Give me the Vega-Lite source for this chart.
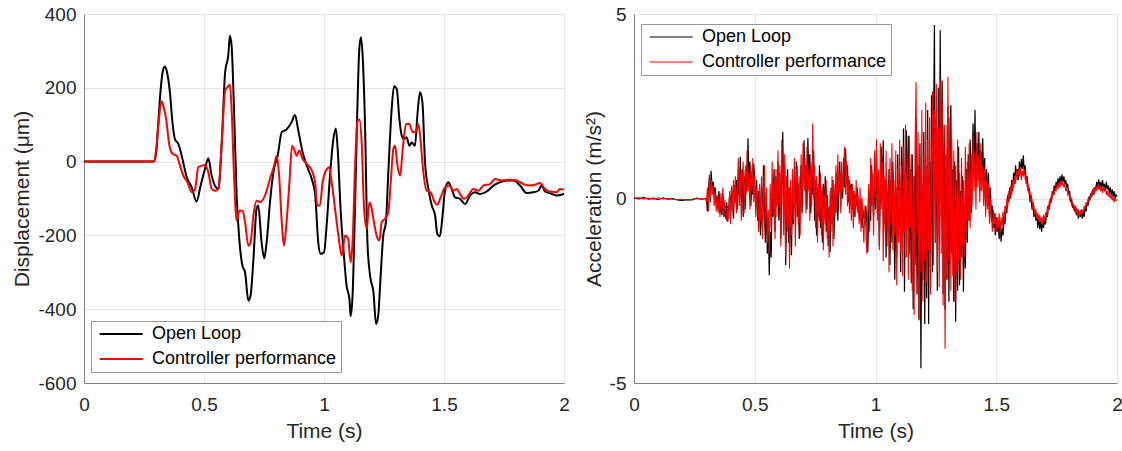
{
"$schema": "https://vega.github.io/schema/vega-lite/v6.json",
"padding": {"left": 11, "top": 5, "right": 4, "bottom": 4},
"datasets": {
"dispOL": [{"t":0,"v":0},{"t":0.29,"v":0},{"t":0.3,"v":20},{"t":0.31,"v":110},{"t":0.32,"v":200},{"t":0.33,"v":250},{"t":0.3375,"v":258},{"t":0.345,"v":245},{"t":0.358,"v":188},{"t":0.368,"v":110},{"t":0.379,"v":61},{"t":0.393,"v":48},{"t":0.407,"v":16},{"t":0.428,"v":-42},{"t":0.449,"v":-70},{"t":0.469,"v":-108},{"t":0.486,"v":-65},{"t":0.504,"v":-20},{"t":0.518,"v":9},{"t":0.532,"v":-38},{"t":0.55,"v":-70},{"t":0.56,"v":-74},{"t":0.574,"v":52},{"t":0.588,"v":242},{"t":0.601,"v":287},{"t":0.608,"v":341},{"t":0.615,"v":314},{"t":0.625,"v":143},{"t":0.636,"v":-92},{"t":0.647,"v":-210},{"t":0.66,"v":-282},{"t":0.671,"v":-300},{"t":0.685,"v":-377},{"t":0.694,"v":-363},{"t":0.706,"v":-264},{"t":0.719,"v":-128},{"t":0.726,"v":-119},{"t":0.74,"v":-219},{"t":0.751,"v":-262},{"t":0.761,"v":-219},{"t":0.775,"v":-110},{"t":0.789,"v":-29},{"t":0.807,"v":16},{"t":0.824,"v":80},{"t":0.844,"v":87},{"t":0.865,"v":107},{"t":0.879,"v":126},{"t":0.893,"v":84},{"t":0.911,"v":25},{"t":0.928,"v":-11},{"t":0.949,"v":-47},{"t":0.963,"v":-88},{"t":0.976,"v":-219},{"t":0.986,"v":-250},{"t":1.0,"v":-246},{"t":1.011,"v":-173},{"t":1.025,"v":-38},{"t":1.039,"v":61},{"t":1.049,"v":90},{"t":1.057,"v":34},{"t":1.069,"v":-128},{"t":1.083,"v":-255},{"t":1.094,"v":-336},{"t":1.106,"v":-372},{"t":1.111,"v":-419},{"t":1.119,"v":-363},{"t":1.129,"v":-128},{"t":1.139,"v":143},{"t":1.147,"v":305},{"t":1.154,"v":337},{"t":1.161,"v":287},{"t":1.171,"v":98},{"t":1.181,"v":-219},{"t":1.192,"v":-309},{"t":1.206,"v":-354},{"t":1.217,"v":-440},{"t":1.226,"v":-417},{"t":1.236,"v":-309},{"t":1.247,"v":-200},{"t":1.258,"v":-164},{"t":1.268,"v":-29},{"t":1.282,"v":143},{"t":1.292,"v":204},{"t":1.303,"v":197},{"t":1.314,"v":116},{"t":1.324,"v":70},{"t":1.333,"v":61},{"t":1.344,"v":66},{"t":1.356,"v":43},{"t":1.365,"v":52},{"t":1.379,"v":43},{"t":1.389,"v":125},{"t":1.4,"v":188},{"t":1.41,"v":161},{"t":1.421,"v":-2},{"t":1.435,"v":-74},{"t":1.449,"v":-119},{"t":1.463,"v":-146},{"t":1.472,"v":-196},{"t":1.483,"v":-202},{"t":1.494,"v":-146},{"t":1.504,"v":-79},{"t":1.518,"v":-56},{"t":1.532,"v":-74},{"t":1.546,"v":-97},{"t":1.567,"v":-101},{"t":1.588,"v":-115},{"t":1.608,"v":-92},{"t":1.629,"v":-83},{"t":1.65,"v":-88},{"t":1.678,"v":-81},{"t":1.706,"v":-65},{"t":1.733,"v":-56},{"t":1.761,"v":-51},{"t":1.789,"v":-51},{"t":1.817,"v":-65},{"t":1.844,"v":-85},{"t":1.872,"v":-83},{"t":1.893,"v":-79},{"t":1.907,"v":-65},{"t":1.921,"v":-81},{"t":1.942,"v":-86},{"t":1.969,"v":-92},{"t":2.0,"v":-88}],
"dispCP": [{"t":0,"v":0},{"t":0.29,"v":0},{"t":0.3,"v":30},{"t":0.31,"v":100},{"t":0.318,"v":150},{"t":0.324,"v":163},{"t":0.333,"v":145},{"t":0.342,"v":116},{"t":0.356,"v":43},{"t":0.369,"v":21},{"t":0.386,"v":16},{"t":0.4,"v":-11},{"t":0.414,"v":-38},{"t":0.431,"v":-56},{"t":0.449,"v":-83},{"t":0.463,"v":-74},{"t":0.476,"v":-15},{"t":0.49,"v":-11},{"t":0.504,"v":-9},{"t":0.518,"v":-29},{"t":0.532,"v":-74},{"t":0.546,"v":-79},{"t":0.56,"v":-74},{"t":0.574,"v":52},{"t":0.588,"v":192},{"t":0.597,"v":201},{"t":0.608,"v":208},{"t":0.615,"v":143},{"t":0.625,"v":-38},{"t":0.636,"v":-160},{"t":0.647,"v":-133},{"t":0.661,"v":-133},{"t":0.671,"v":-164},{"t":0.685,"v":-228},{"t":0.694,"v":-219},{"t":0.706,"v":-146},{"t":0.719,"v":-106},{"t":0.733,"v":-110},{"t":0.754,"v":-92},{"t":0.775,"v":-47},{"t":0.792,"v":-11},{"t":0.803,"v":16},{"t":0.813,"v":-38},{"t":0.824,"v":-164},{"t":0.833,"v":-228},{"t":0.844,"v":-164},{"t":0.856,"v":-56},{"t":0.867,"v":43},{"t":0.875,"v":34},{"t":0.886,"v":16},{"t":0.897,"v":30},{"t":0.911,"v":7},{"t":0.928,"v":-6},{"t":0.949,"v":-24},{"t":0.963,"v":-56},{"t":0.972,"v":-119},{"t":0.983,"v":-119},{"t":0.994,"v":-56},{"t":1.008,"v":-24},{"t":1.022,"v":-15},{"t":1.032,"v":-56},{"t":1.046,"v":-128},{"t":1.06,"v":-200},{"t":1.074,"v":-255},{"t":1.088,"v":-200},{"t":1.101,"v":-210},{"t":1.111,"v":-273},{"t":1.119,"v":-219},{"t":1.129,"v":-20},{"t":1.139,"v":107},{"t":1.147,"v":114},{"t":1.157,"v":52},{"t":1.167,"v":-128},{"t":1.178,"v":-182},{"t":1.189,"v":-110},{"t":1.199,"v":-128},{"t":1.208,"v":-164},{"t":1.219,"v":-200},{"t":1.231,"v":-214},{"t":1.24,"v":-164},{"t":1.254,"v":-155},{"t":1.268,"v":-137},{"t":1.278,"v":-56},{"t":1.289,"v":34},{"t":1.296,"v":43},{"t":1.306,"v":-11},{"t":1.317,"v":-38},{"t":1.328,"v":34},{"t":1.342,"v":102},{"t":1.356,"v":102},{"t":1.369,"v":80},{"t":1.383,"v":80},{"t":1.393,"v":102},{"t":1.403,"v":52},{"t":1.414,"v":-29},{"t":1.428,"v":-79},{"t":1.444,"v":-83},{"t":1.458,"v":-106},{"t":1.472,"v":-117},{"t":1.486,"v":-97},{"t":1.504,"v":-70},{"t":1.522,"v":-65},{"t":1.539,"v":-79},{"t":1.553,"v":-74},{"t":1.567,"v":-88},{"t":1.583,"v":-101},{"t":1.601,"v":-92},{"t":1.622,"v":-74},{"t":1.643,"v":-79},{"t":1.664,"v":-65},{"t":1.692,"v":-61},{"t":1.713,"v":-47},{"t":1.74,"v":-51},{"t":1.775,"v":-49},{"t":1.803,"v":-51},{"t":1.831,"v":-61},{"t":1.858,"v":-65},{"t":1.886,"v":-61},{"t":1.9,"v":-58},{"t":1.921,"v":-74},{"t":1.942,"v":-81},{"t":1.969,"v":-83},{"t":1.983,"v":-74},{"t":2.0,"v":-76}],
"accOL": [{"t":0,"v":0.02},{"t":0.02,"v":-0.01},{"t":0.04,"v":0.03},{"t":0.06,"v":-0.02},{"t":0.08,"v":0.01},{"t":0.1,"v":-0.03},{"t":0.12,"v":0.02},{"t":0.14,"v":-0.02},{"t":0.16,"v":0},{"t":0.18,"v":-0.04},{"t":0.2,"v":-0.05},{"t":0.22,"v":-0.03},{"t":0.24,"v":-0.04},{"t":0.26,"v":0.01},{"t":0.28,"v":-0.02},{"t":0.295,"v":0},
{"t":0.3,"v":0},{"t":0.304,"v":-0.35},{"t":0.308,"v":0.2},{"t":0.312,"v":0.55},{"t":0.316,"v":-0.1},{"t":0.319,"v":0.75},{"t":0.324,"v":0.3},{"t":0.328,"v":0.45},{"t":0.332,"v":0.1},{"t":0.336,"v":0.3},{"t":0.34,"v":-0.1},{"t":0.344,"v":0.05},{"t":0.348,"v":-0.3},{"t":0.352,"v":0.2},{"t":0.356,"v":-0.4},{"t":0.36,"v":-0.15},{"t":0.364,"v":-0.45},{"t":0.368,"v":0.1},{"t":0.372,"v":-0.5},{"t":0.376,"v":-0.2},{"t":0.38,"v":-0.55},{"t":0.384,"v":-0.1},{"t":0.388,"v":-0.63},{"t":0.392,"v":-0.3},{"t":0.396,"v":0.1},{"t":0.4,"v":-0.4},{"t":0.404,"v":0.3},{"t":0.408,"v":-0.2},{"t":0.412,"v":-0.55},{"t":0.416,"v":0.35},{"t":0.42,"v":-0.1},{"t":0.424,"v":0.5},{"t":0.428,"v":-0.3},{"t":0.432,"v":0.6},{"t":0.436,"v":0.1},{"t":0.44,"v":1.13},{"t":0.444,"v":0},{"t":0.448,"v":0.8},{"t":0.452,"v":-0.5},{"t":0.456,"v":0.6},{"t":0.46,"v":-0.3},{"t":0.464,"v":0.9},{"t":0.468,"v":0.2},{"t":0.472,"v":1.63},{"t":0.476,"v":0.3},{"t":0.48,"v":1.0},{"t":0.484,"v":-0.2},{"t":0.488,"v":0.7},{"t":0.492,"v":0.1},{"t":0.496,"v":0.95},{"t":0.5,"v":0.4},{"t":0.504,"v":-0.3},{"t":0.508,"v":0.5},{"t":0.512,"v":-0.6},{"t":0.516,"v":0.2},{"t":0.52,"v":-0.4},{"t":0.524,"v":-1.0},{"t":0.528,"v":0.3},{"t":0.532,"v":-0.8},{"t":0.536,"v":0.9},{"t":0.54,"v":-0.3},{"t":0.544,"v":-1.2},{"t":0.548,"v":0.1},{"t":0.552,"v":-1.5},{"t":0.556,"v":-0.6},{"t":0.56,"v":-2.08},{"t":0.564,"v":-0.9},{"t":0.568,"v":-1.6},{"t":0.572,"v":0.2},{"t":0.576,"v":-0.5},{"t":0.58,"v":0.8},{"t":0.584,"v":-0.9},{"t":0.588,"v":0.6},{"t":0.592,"v":-0.2},{"t":0.596,"v":1.0},{"t":0.6,"v":-0.6},{"t":0.604,"v":0.7},{"t":0.608,"v":-1.1},{"t":0.612,"v":0.5},{"t":0.616,"v":1.8},{"t":0.62,"v":-0.2},{"t":0.624,"v":0.9},{"t":0.628,"v":-1.8},{"t":0.632,"v":-0.4},{"t":0.636,"v":0.8},{"t":0.64,"v":-1.2},{"t":0.644,"v":0.3},{"t":0.648,"v":-0.8},{"t":0.652,"v":-1.54},{"t":0.656,"v":0.2},{"t":0.66,"v":-0.7},{"t":0.664,"v":0.6},{"t":0.668,"v":-0.3},{"t":0.672,"v":1.0},{"t":0.676,"v":-0.5},{"t":0.68,"v":0.4},{"t":0.684,"v":-1.1},{"t":0.688,"v":0.2},{"t":0.692,"v":0.9},{"t":0.696,"v":-0.4},{"t":0.7,"v":0.7},{"t":0.704,"v":1.58},{"t":0.708,"v":0.2},{"t":0.712,"v":0.9},{"t":0.716,"v":-0.3},{"t":0.72,"v":1.64},{"t":0.724,"v":0.5},{"t":0.728,"v":1.2},{"t":0.732,"v":-0.4},{"t":0.736,"v":0.8},{"t":0.74,"v":0.1},{"t":0.744,"v":1.3},{"t":0.748,"v":-0.6},{"t":0.752,"v":0.5},{"t":0.756,"v":-1.0},{"t":0.76,"v":0.3},{"t":0.764,"v":-0.5},{"t":0.768,"v":0.9},{"t":0.772,"v":-0.8},{"t":0.776,"v":0.2},{"t":0.78,"v":-1.2},{"t":0.784,"v":0.4},{"t":0.788,"v":-0.3},{"t":0.792,"v":0.6},{"t":0.796,"v":-0.9},{"t":0.8,"v":0.1},{"t":0.804,"v":-1.3},{"t":0.808,"v":-0.2},{"t":0.812,"v":-1.45},{"t":0.816,"v":0.3},{"t":0.82,"v":-0.7},{"t":0.824,"v":0.5},{"t":0.828,"v":-1.1},{"t":0.832,"v":0.2},{"t":0.836,"v":-0.4},{"t":0.84,"v":0.7},{"t":0.844,"v":-0.6},{"t":0.848,"v":0.3},{"t":0.852,"v":1.0},{"t":0.856,"v":-0.2},{"t":0.86,"v":0.6},{"t":0.864,"v":0},{"t":0.868,"v":1.1},{"t":0.872,"v":0.3},{"t":0.876,"v":1.35},{"t":0.88,"v":0.4},{"t":0.884,"v":0.9},{"t":0.888,"v":-0.1},{"t":0.892,"v":0.5},{"t":0.896,"v":0},{"t":0.9,"v":0.4},{"t":0.904,"v":-0.3},{"t":0.908,"v":0.2},{"t":0.912,"v":-0.5},{"t":0.916,"v":0.1},{"t":0.92,"v":-0.2},{"t":0.924,"v":0.3},{"t":0.928,"v":-0.4},{"t":0.932,"v":-0.1},{"t":0.936,"v":-0.6},{"t":0.94,"v":0},{"t":0.944,"v":-0.8},{"t":0.948,"v":-0.3},{"t":0.952,"v":-0.5},{"t":0.956,"v":-0.7},{"t":0.96,"v":-0.2},{"t":0.964,"v":-0.63},{"t":0.968,"v":-1.45},{"t":0.972,"v":-0.4},{"t":0.976,"v":0.2},{"t":0.98,"v":-0.6},{"t":0.984,"v":0.9},{"t":0.988,"v":0.1},{"t":0.992,"v":-0.5},{"t":0.996,"v":0.6},{"t":1.0,"v":-0.3},{"t":1.004,"v":1.2},{"t":1.008,"v":-0.4},{"t":1.012,"v":0.7},{"t":1.016,"v":-1.3},{"t":1.02,"v":0.3},{"t":1.024,"v":1.4},{"t":1.028,"v":0},{"t":1.032,"v":1.58},{"t":1.036,"v":-0.7},{"t":1.04,"v":0.5},{"t":1.044,"v":-1.6},{"t":1.048,"v":0.2},{"t":1.052,"v":-0.9},{"t":1.056,"v":0.8},{"t":1.06,"v":-1.8},{"t":1.064,"v":0.4},{"t":1.068,"v":-1.2},{"t":1.072,"v":1.0},{"t":1.076,"v":-0.5},{"t":1.08,"v":-2.2},{"t":1.084,"v":0.3},{"t":1.088,"v":-1.6},{"t":1.092,"v":1.2},{"t":1.096,"v":-0.8},{"t":1.1,"v":0.6},{"t":1.104,"v":-2.0},{"t":1.108,"v":1.4},{"t":1.112,"v":-1.0},{"t":1.116,"v":1.9},{"t":1.12,"v":-2.53},{"t":1.124,"v":0.5},{"t":1.128,"v":1.85},{"t":1.132,"v":-0.6},{"t":1.136,"v":1.7},{"t":1.14,"v":-1.5},{"t":1.144,"v":0.8},{"t":1.148,"v":-2.3},{"t":1.152,"v":1.2},{"t":1.156,"v":-3.0},{"t":1.16,"v":0.6},{"t":1.164,"v":-1.8},{"t":1.168,"v":2.2},{"t":1.172,"v":-2.6},{"t":1.176,"v":0.9},{"t":1.18,"v":-3.3},{"t":1.184,"v":1.5},{"t":1.188,"v":-4.6},{"t":1.192,"v":0.4},{"t":1.196,"v":-2.2},{"t":1.2,"v":1.8},{"t":1.204,"v":-3.4},{"t":1.208,"v":0.9},{"t":1.212,"v":-2.7},{"t":1.216,"v":2.4},{"t":1.22,"v":-3.4},{"t":1.224,"v":1.0},{"t":1.228,"v":-1.5},{"t":1.232,"v":2.8},{"t":1.236,"v":-2.0},{"t":1.24,"v":1.6},{"t":1.244,"v":4.7},{"t":1.248,"v":-1.2},{"t":1.252,"v":2.2},{"t":1.256,"v":-2.5},{"t":1.26,"v":3.0},{"t":1.264,"v":-1.0},{"t":1.268,"v":4.56},{"t":1.272,"v":-0.5},{"t":1.276,"v":3.2},{"t":1.28,"v":-2.6},{"t":1.284,"v":2.0},{"t":1.288,"v":-3.0},{"t":1.292,"v":1.2},{"t":1.296,"v":-2.2},{"t":1.3,"v":2.5},{"t":1.304,"v":-2.8},{"t":1.308,"v":1.5},{"t":1.312,"v":2.53},{"t":1.316,"v":-1.5},{"t":1.32,"v":0.8},{"t":1.324,"v":-2.8},{"t":1.328,"v":1.0},{"t":1.332,"v":-3.34},{"t":1.336,"v":0.5},{"t":1.34,"v":-2.5},{"t":1.344,"v":1.4},{"t":1.348,"v":-2.35},{"t":1.352,"v":0.2},{"t":1.356,"v":-1.6},{"t":1.36,"v":0.6},{"t":1.364,"v":-2.53},{"t":1.368,"v":-0.4},{"t":1.372,"v":-1.9},{"t":1.376,"v":0.8},{"t":1.38,"v":-1.2},{"t":1.384,"v":1.2},{"t":1.388,"v":-0.6},{"t":1.392,"v":1.6},{"t":1.396,"v":-0.4},{"t":1.4,"v":1.1},{"t":1.404,"v":2.03},{"t":1.408,"v":0.6},{"t":1.412,"v":2.4},{"t":1.416,"v":0.3},{"t":1.42,"v":1.5},{"t":1.424,"v":0.5},{"t":1.428,"v":1.8},{"t":1.432,"v":0.2},{"t":1.436,"v":1.3},{"t":1.44,"v":0.6},{"t":1.444,"v":1.63},{"t":1.448,"v":0.4},{"t":1.452,"v":1.1},{"t":1.456,"v":-0.2},{"t":1.46,"v":0.8},{"t":1.464,"v":0},{"t":1.468,"v":0.7},{"t":1.472,"v":-0.5},{"t":1.476,"v":0.3},{"t":1.48,"v":-0.63},{"t":1.484,"v":-0.2},{"t":1.488,"v":-0.8},{"t":1.492,"v":-0.4},{"t":1.496,"v":-1.0},{"t":1.5,"v":-0.5},{"t":1.504,"v":-0.9},{"t":1.508,"v":-0.6},{"t":1.512,"v":-1.1},{"t":1.516,"v":-0.7},{"t":1.52,"v":-1.17},{"t":1.524,"v":-0.8},{"t":1.528,"v":-1.0},{"t":1.532,"v":-0.5},{"t":1.536,"v":-0.7},{"t":1.54,"v":-0.2},{"t":1.544,"v":-0.4},{"t":1.548,"v":0.1},{"t":1.552,"v":-0.1},{"t":1.556,"v":0.3},{"t":1.56,"v":0},{"t":1.564,"v":0.5},{"t":1.568,"v":0.2},{"t":1.572,"v":0.7},{"t":1.576,"v":0.4},{"t":1.58,"v":0.9},{"t":1.584,"v":0.6},{"t":1.588,"v":0.8},{"t":1.592,"v":0.5},{"t":1.596,"v":1.0},{"t":1.6,"v":0.7},{"t":1.604,"v":1.07},{"t":1.608,"v":0.8},{"t":1.612,"v":1.17},{"t":1.616,"v":0.7},{"t":1.62,"v":0.9},{"t":1.624,"v":0.4},{"t":1.628,"v":0.6},{"t":1.632,"v":0.2},{"t":1.636,"v":0.3},{"t":1.64,"v":-0.1},{"t":1.644,"v":0.1},{"t":1.648,"v":-0.3},{"t":1.652,"v":-0.1},{"t":1.656,"v":-0.5},{"t":1.66,"v":-0.3},{"t":1.664,"v":-0.6},{"t":1.668,"v":-0.4},{"t":1.672,"v":-0.8},{"t":1.676,"v":-0.5},{"t":1.68,"v":-0.83},{"t":1.684,"v":-0.6},{"t":1.688,"v":-0.9},{"t":1.692,"v":-0.6},{"t":1.696,"v":-0.8},{"t":1.7,"v":-0.5},{"t":1.704,"v":-0.7},{"t":1.708,"v":-0.4},{"t":1.712,"v":-0.5},{"t":1.716,"v":-0.2},{"t":1.72,"v":-0.3},{"t":1.724,"v":0},{"t":1.728,"v":-0.1},{"t":1.732,"v":0.2},{"t":1.736,"v":0.1},{"t":1.74,"v":0.35},{"t":1.744,"v":0.2},{"t":1.748,"v":0.45},{"t":1.752,"v":0.3},{"t":1.756,"v":0.55},{"t":1.76,"v":0.35},{"t":1.764,"v":0.6},{"t":1.768,"v":0.4},{"t":1.772,"v":0.65},{"t":1.776,"v":0.45},{"t":1.78,"v":0.6},{"t":1.784,"v":0.4},{"t":1.788,"v":0.5},{"t":1.792,"v":0.3},{"t":1.796,"v":0.4},{"t":1.8,"v":0.1},{"t":1.804,"v":0.2},{"t":1.808,"v":-0.1},{"t":1.812,"v":0},{"t":1.816,"v":-0.25},{"t":1.82,"v":-0.15},{"t":1.824,"v":-0.35},{"t":1.828,"v":-0.2},{"t":1.832,"v":-0.45},{"t":1.836,"v":-0.3},{"t":1.84,"v":-0.55},{"t":1.844,"v":-0.35},{"t":1.848,"v":-0.5},{"t":1.852,"v":-0.3},{"t":1.856,"v":-0.55},{"t":1.86,"v":-0.35},{"t":1.864,"v":-0.5},{"t":1.868,"v":-0.25},{"t":1.872,"v":-0.35},{"t":1.876,"v":-0.1},{"t":1.88,"v":-0.2},{"t":1.884,"v":0.05},{"t":1.888,"v":-0.05},{"t":1.892,"v":0.15},{"t":1.896,"v":0.05},{"t":1.9,"v":0.25},{"t":1.904,"v":0.1},{"t":1.908,"v":0.3},{"t":1.912,"v":0.2},{"t":1.916,"v":0.45},{"t":1.92,"v":0.3},{"t":1.924,"v":0.52},{"t":1.928,"v":0.3},{"t":1.932,"v":0.45},{"t":1.936,"v":0.25},{"t":1.94,"v":0.5},{"t":1.944,"v":0.3},{"t":1.948,"v":0.4},{"t":1.952,"v":0.2},{"t":1.956,"v":0.45},{"t":1.96,"v":0.25},{"t":1.964,"v":0.35},{"t":1.968,"v":0.15},{"t":1.972,"v":0.3},{"t":1.976,"v":0.1},{"t":1.98,"v":0.25},{"t":1.984,"v":0.05},{"t":1.988,"v":0.2},{"t":1.992,"v":0},{"t":1.996,"v":0.1},{"t":2.0,"v":0.05}],
"accCP": [{"t":0,"v":0},{"t":0.02,"v":0.02},{"t":0.04,"v":-0.01},{"t":0.06,"v":0.01},{"t":0.08,"v":-0.02},{"t":0.1,"v":0.02},{"t":0.12,"v":-0.01},{"t":0.14,"v":0},{"t":0.16,"v":-0.02},{"t":0.18,"v":-0.03},{"t":0.2,"v":-0.02},{"t":0.22,"v":-0.04},{"t":0.24,"v":-0.02},{"t":0.26,"v":0},{"t":0.28,"v":-0.01},{"t":0.295,"v":0},
{"t":0.3,"v":-0.1},{"t":0.304,"v":0.3},{"t":0.308,"v":-0.35},{"t":0.312,"v":0.65},{"t":0.316,"v":0},{"t":0.32,"v":0.5},{"t":0.324,"v":0.1},{"t":0.328,"v":0.35},{"t":0.332,"v":-0.2},{"t":0.336,"v":0.2},{"t":0.34,"v":-0.35},{"t":0.344,"v":0.1},{"t":0.348,"v":-0.4},{"t":0.352,"v":0.05},{"t":0.356,"v":-0.5},{"t":0.36,"v":0.15},{"t":0.364,"v":-0.3},{"t":0.368,"v":0.3},{"t":0.372,"v":-0.45},{"t":0.376,"v":-0.05},{"t":0.38,"v":-0.4},{"t":0.384,"v":-0.6},{"t":0.388,"v":-0.2},{"t":0.392,"v":-0.55},{"t":0.396,"v":0.2},{"t":0.4,"v":-0.7},{"t":0.404,"v":0.35},{"t":0.408,"v":-0.3},{"t":0.412,"v":0.5},{"t":0.416,"v":-0.15},{"t":0.42,"v":0.6},{"t":0.424,"v":-0.4},{"t":0.428,"v":0.3},{"t":0.432,"v":1.1},{"t":0.436,"v":-0.2},{"t":0.44,"v":0.7},{"t":0.444,"v":-0.6},{"t":0.448,"v":0.4},{"t":0.452,"v":1.0},{"t":0.456,"v":-0.4},{"t":0.46,"v":0.8},{"t":0.464,"v":0.1},{"t":0.468,"v":1.3},{"t":0.472,"v":0.2},{"t":0.476,"v":0.7},{"t":0.48,"v":-0.3},{"t":0.484,"v":0.9},{"t":0.488,"v":0.2},{"t":0.492,"v":1.1},{"t":0.496,"v":-0.1},{"t":0.5,"v":0.6},{"t":0.504,"v":-0.5},{"t":0.508,"v":0.3},{"t":0.512,"v":-0.2},{"t":0.516,"v":-0.9},{"t":0.52,"v":0.4},{"t":0.524,"v":-0.6},{"t":0.528,"v":0.6},{"t":0.532,"v":-1.1},{"t":0.536,"v":0.2},{"t":0.54,"v":0.9},{"t":0.544,"v":-0.7},{"t":0.548,"v":0.3},{"t":0.552,"v":-1.2},{"t":0.556,"v":-0.3},{"t":0.56,"v":-1.5},{"t":0.564,"v":0.4},{"t":0.568,"v":-0.8},{"t":0.572,"v":1.0},{"t":0.576,"v":-0.4},{"t":0.58,"v":0.5},{"t":0.584,"v":-1.1},{"t":0.588,"v":0.8},{"t":0.592,"v":-0.5},{"t":0.596,"v":1.3},{"t":0.6,"v":-0.2},{"t":0.604,"v":0.9},{"t":0.608,"v":-1.3},{"t":0.612,"v":1.6},{"t":0.616,"v":0.3},{"t":0.62,"v":-1.0},{"t":0.624,"v":1.2},{"t":0.628,"v":-1.6},{"t":0.632,"v":0.6},{"t":0.636,"v":-0.9},{"t":0.64,"v":0.3},{"t":0.644,"v":-1.9},{"t":0.648,"v":0.5},{"t":0.652,"v":-1.0},{"t":0.656,"v":0.8},{"t":0.66,"v":-0.6},{"t":0.664,"v":1.1},{"t":0.668,"v":-1.3},{"t":0.672,"v":0.4},{"t":0.676,"v":0.9},{"t":0.68,"v":-0.7},{"t":0.684,"v":0.6},{"t":0.688,"v":-1.0},{"t":0.692,"v":1.2},{"t":0.696,"v":-0.2},{"t":0.7,"v":1.5},{"t":0.704,"v":0.3},{"t":0.708,"v":1.1},{"t":0.712,"v":-0.4},{"t":0.716,"v":1.4},{"t":0.72,"v":0.2},{"t":0.724,"v":0.8},{"t":0.728,"v":-0.6},{"t":0.732,"v":1.0},{"t":0.736,"v":-0.2},{"t":0.74,"v":2.03},{"t":0.744,"v":0},{"t":0.748,"v":0.9},{"t":0.752,"v":-0.8},{"t":0.756,"v":0.6},{"t":0.76,"v":-1.2},{"t":0.764,"v":0.4},{"t":0.768,"v":-0.6},{"t":0.772,"v":0.7},{"t":0.776,"v":-1.0},{"t":0.78,"v":0.3},{"t":0.784,"v":-1.4},{"t":0.788,"v":0.1},{"t":0.792,"v":-0.7},{"t":0.796,"v":0.5},{"t":0.8,"v":-1.1},{"t":0.804,"v":-0.3},{"t":0.808,"v":-1.6},{"t":0.812,"v":0.2},{"t":0.816,"v":-0.9},{"t":0.82,"v":0.6},{"t":0.824,"v":-1.3},{"t":0.828,"v":0.4},{"t":0.832,"v":-0.5},{"t":0.836,"v":0.9},{"t":0.84,"v":-0.3},{"t":0.844,"v":1.2},{"t":0.848,"v":0.1},{"t":0.852,"v":0.7},{"t":0.856,"v":-0.4},{"t":0.86,"v":1.0},{"t":0.864,"v":0.2},{"t":0.868,"v":0.8},{"t":0.872,"v":1.4},{"t":0.876,"v":0.1},{"t":0.88,"v":1.0},{"t":0.884,"v":-0.2},{"t":0.888,"v":0.6},{"t":0.892,"v":-0.4},{"t":0.896,"v":0.3},{"t":0.9,"v":-0.6},{"t":0.904,"v":0.4},{"t":0.908,"v":-0.8},{"t":0.912,"v":0.2},{"t":0.916,"v":-0.5},{"t":0.92,"v":0.5},{"t":0.924,"v":-0.3},{"t":0.928,"v":0.1},{"t":0.932,"v":-0.7},{"t":0.936,"v":0.3},{"t":0.94,"v":-0.9},{"t":0.944,"v":0},{"t":0.948,"v":-0.6},{"t":0.952,"v":-1.2},{"t":0.956,"v":-0.2},{"t":0.96,"v":-0.8},{"t":0.964,"v":-1.5},{"t":0.968,"v":-0.3},{"t":0.972,"v":0.4},{"t":0.976,"v":-0.9},{"t":0.98,"v":1.1},{"t":0.984,"v":-0.2},{"t":0.988,"v":0.7},{"t":0.992,"v":-1.0},{"t":0.996,"v":1.3},{"t":1.0,"v":0},{"t":1.004,"v":1.6},{"t":1.008,"v":-0.6},{"t":1.012,"v":0.8},{"t":1.016,"v":-1.4},{"t":1.02,"v":1.5},{"t":1.024,"v":-0.3},{"t":1.028,"v":1.0},{"t":1.032,"v":-1.7},{"t":1.036,"v":0.6},{"t":1.04,"v":-0.9},{"t":1.044,"v":1.3},{"t":1.048,"v":-1.3},{"t":1.052,"v":0.4},{"t":1.056,"v":-2.0},{"t":1.06,"v":1.1},{"t":1.064,"v":-0.7},{"t":1.068,"v":1.5},{"t":1.072,"v":-1.4},{"t":1.076,"v":0.5},{"t":1.08,"v":-1.0},{"t":1.084,"v":1.3},{"t":1.088,"v":-2.35},{"t":1.092,"v":0.8},{"t":1.096,"v":-1.2},{"t":1.1,"v":1.6},{"t":1.104,"v":-1.5},{"t":1.108,"v":0.9},{"t":1.112,"v":-2.1},{"t":1.116,"v":1.4},{"t":1.12,"v":-0.9},{"t":1.124,"v":2.0},{"t":1.128,"v":-1.6},{"t":1.132,"v":1.1},{"t":1.136,"v":-2.2},{"t":1.14,"v":1.7},{"t":1.144,"v":-0.8},{"t":1.148,"v":1.2},{"t":1.152,"v":-2.5},{"t":1.156,"v":0.6},{"t":1.16,"v":-3.16},{"t":1.164,"v":1.5},{"t":1.168,"v":3.16},{"t":1.172,"v":-1.0},{"t":1.176,"v":1.8},{"t":1.18,"v":-3.25},{"t":1.184,"v":0.8},{"t":1.188,"v":-2.0},{"t":1.192,"v":2.4},{"t":1.196,"v":-2.8},{"t":1.2,"v":1.2},{"t":1.204,"v":-1.7},{"t":1.208,"v":2.6},{"t":1.212,"v":-2.3},{"t":1.216,"v":1.6},{"t":1.22,"v":-1.4},{"t":1.224,"v":2.2},{"t":1.228,"v":-2.6},{"t":1.232,"v":0.9},{"t":1.236,"v":2.9},{"t":1.24,"v":-1.8},{"t":1.244,"v":2.4},{"t":1.248,"v":-1.2},{"t":1.252,"v":3.1},{"t":1.256,"v":-2.0},{"t":1.26,"v":1.9},{"t":1.264,"v":-2.4},{"t":1.268,"v":3.25},{"t":1.272,"v":-1.5},{"t":1.276,"v":2.6},{"t":1.28,"v":-2.9},{"t":1.284,"v":1.4},{"t":1.288,"v":-4.07},{"t":1.292,"v":2.0},{"t":1.296,"v":-2.2},{"t":1.3,"v":3.3},{"t":1.304,"v":-1.7},{"t":1.308,"v":2.2},{"t":1.312,"v":-2.5},{"t":1.316,"v":1.6},{"t":1.32,"v":-2.1},{"t":1.324,"v":1.3},{"t":1.328,"v":-2.8},{"t":1.332,"v":0.9},{"t":1.336,"v":-2.0},{"t":1.34,"v":1.6},{"t":1.344,"v":-1.7},{"t":1.348,"v":0.7},{"t":1.352,"v":-2.2},{"t":1.356,"v":1.1},{"t":1.36,"v":-1.3},{"t":1.364,"v":0.5},{"t":1.368,"v":-1.6},{"t":1.372,"v":1.4},{"t":1.376,"v":-0.9},{"t":1.38,"v":1.0},{"t":1.384,"v":-0.6},{"t":1.388,"v":1.5},{"t":1.392,"v":-0.8},{"t":1.396,"v":1.2},{"t":1.4,"v":-0.2},{"t":1.404,"v":1.7},{"t":1.408,"v":0.2},{"t":1.412,"v":1.3},{"t":1.416,"v":-0.3},{"t":1.42,"v":1.8},{"t":1.424,"v":0.3},{"t":1.428,"v":1.2},{"t":1.432,"v":-0.1},{"t":1.436,"v":1.5},{"t":1.44,"v":0.2},{"t":1.444,"v":0.9},{"t":1.448,"v":-0.2},{"t":1.452,"v":0.8},{"t":1.456,"v":-0.5},{"t":1.46,"v":0.5},{"t":1.464,"v":-0.3},{"t":1.468,"v":0.4},{"t":1.472,"v":-0.7},{"t":1.476,"v":0},{"t":1.48,"v":-0.5},{"t":1.484,"v":-0.9},{"t":1.488,"v":-0.3},{"t":1.492,"v":-0.7},{"t":1.496,"v":-0.4},{"t":1.5,"v":-0.9},{"t":1.504,"v":-0.5},{"t":1.508,"v":-0.8},{"t":1.512,"v":-0.4},{"t":1.516,"v":-0.95},{"t":1.52,"v":-0.5},{"t":1.524,"v":-0.8},{"t":1.528,"v":-0.35},{"t":1.532,"v":-0.6},{"t":1.536,"v":-0.2},{"t":1.54,"v":-0.4},{"t":1.544,"v":0},{"t":1.548,"v":-0.2},{"t":1.552,"v":0.2},{"t":1.556,"v":0},{"t":1.56,"v":0.35},{"t":1.564,"v":0.1},{"t":1.568,"v":0.5},{"t":1.572,"v":0.3},{"t":1.576,"v":0.6},{"t":1.58,"v":0.4},{"t":1.584,"v":0.75},{"t":1.588,"v":0.5},{"t":1.592,"v":0.8},{"t":1.596,"v":0.6},{"t":1.6,"v":0.85},{"t":1.604,"v":0.5},{"t":1.608,"v":0.75},{"t":1.612,"v":0.6},{"t":1.616,"v":0.8},{"t":1.62,"v":0.5},{"t":1.624,"v":0.6},{"t":1.628,"v":0.3},{"t":1.632,"v":0.4},{"t":1.636,"v":0.1},{"t":1.64,"v":0.2},{"t":1.644,"v":-0.1},{"t":1.648,"v":0},{"t":1.652,"v":-0.3},{"t":1.656,"v":-0.2},{"t":1.66,"v":-0.45},{"t":1.664,"v":-0.3},{"t":1.668,"v":-0.55},{"t":1.672,"v":-0.4},{"t":1.676,"v":-0.6},{"t":1.68,"v":-0.45},{"t":1.684,"v":-0.65},{"t":1.688,"v":-0.5},{"t":1.692,"v":-0.7},{"t":1.696,"v":-0.45},{"t":1.7,"v":-0.6},{"t":1.704,"v":-0.4},{"t":1.708,"v":-0.45},{"t":1.712,"v":-0.2},{"t":1.716,"v":-0.3},{"t":1.72,"v":-0.05},{"t":1.724,"v":-0.15},{"t":1.728,"v":0.1},{"t":1.732,"v":0},{"t":1.736,"v":0.2},{"t":1.74,"v":0.1},{"t":1.744,"v":0.3},{"t":1.748,"v":0.2},{"t":1.752,"v":0.4},{"t":1.756,"v":0.25},{"t":1.76,"v":0.45},{"t":1.764,"v":0.3},{"t":1.768,"v":0.5},{"t":1.772,"v":0.35},{"t":1.776,"v":0.45},{"t":1.78,"v":0.3},{"t":1.784,"v":0.4},{"t":1.788,"v":0.2},{"t":1.792,"v":0.3},{"t":1.796,"v":0.1},{"t":1.8,"v":0.15},{"t":1.804,"v":-0.05},{"t":1.808,"v":0.05},{"t":1.812,"v":-0.2},{"t":1.816,"v":-0.1},{"t":1.82,"v":-0.3},{"t":1.824,"v":-0.2},{"t":1.828,"v":-0.4},{"t":1.832,"v":-0.25},{"t":1.836,"v":-0.45},{"t":1.84,"v":-0.3},{"t":1.844,"v":-0.5},{"t":1.848,"v":-0.35},{"t":1.852,"v":-0.45},{"t":1.856,"v":-0.3},{"t":1.86,"v":-0.4},{"t":1.864,"v":-0.2},{"t":1.868,"v":-0.3},{"t":1.872,"v":-0.1},{"t":1.876,"v":-0.2},{"t":1.88,"v":0},{"t":1.884,"v":-0.1},{"t":1.888,"v":0.1},{"t":1.892,"v":0},{"t":1.896,"v":0.2},{"t":1.9,"v":0.1},{"t":1.904,"v":0.3},{"t":1.908,"v":0.15},{"t":1.912,"v":0.35},{"t":1.916,"v":0.2},{"t":1.92,"v":0.4},{"t":1.924,"v":0.25},{"t":1.928,"v":0.35},{"t":1.932,"v":0.2},{"t":1.936,"v":0.3},{"t":1.94,"v":0.15},{"t":1.944,"v":0.35},{"t":1.948,"v":0.2},{"t":1.952,"v":0.3},{"t":1.956,"v":0.1},{"t":1.96,"v":0.2},{"t":1.964,"v":0.05},{"t":1.968,"v":0.15},{"t":1.972,"v":0},{"t":1.976,"v":0.1},{"t":1.98,"v":-0.05},{"t":1.984,"v":0.05},{"t":1.988,"v":-0.1},{"t":1.992,"v":0},{"t":1.996,"v":-0.05},{"t":2.0,"v":-0.05}]
},
"spacing": 70,
"bounds": "flush",
"resolve": {"scale": {"color": "independent"}, "legend": {"color": "independent"}},
"hconcat": [
{
"width": 480, "height": 369,
"layer": [
{"data": {"name": "dispOL"}, "mark": {"type": "line", "strokeWidth": 2, "interpolate": "monotone"},
"encoding": {
"x": {"field": "t", "type": "quantitative", "scale": {"domain": [0, 2], "nice": false}, "axis": {"values": [0, 0.5, 1, 1.5, 2], "format": "~g", "title": "Time (s)"}},
"y": {"field": "v", "type": "quantitative", "scale": {"domain": [-600, 400], "nice": false}, "axis": {"values": [-600, -400, -200, 0, 200, 400], "title": "Displacement (μm)"}},
"color": {"datum": "Open Loop", "type": "nominal", "scale": {"domain": ["Open Loop", "Controller performance"], "range": ["#000000", "#ff0000"]},
"legend": {"orient": "none", "legendX": 7, "legendY": 307, "title": null, "symbolStrokeWidth": 2}}
}},
{"data": {"name": "dispCP"}, "mark": {"type": "line", "strokeWidth": 2, "interpolate": "monotone"},
"encoding": {
"x": {"field": "t", "type": "quantitative"},
"y": {"field": "v", "type": "quantitative"},
"color": {"datum": "Controller performance", "type": "nominal"}
}}
]
},
{
"width": 483, "height": 369,
"layer": [
{"data": {"name": "accOL"}, "mark": {"type": "line", "strokeWidth": 1.2},
"encoding": {
"x": {"field": "t", "type": "quantitative", "scale": {"domain": [0, 2], "nice": false}, "axis": {"values": [0, 0.5, 1, 1.5, 2], "format": "~g", "title": "Time (s)"}},
"y": {"field": "v", "type": "quantitative", "scale": {"domain": [-5, 5], "nice": false}, "axis": {"values": [-5, 0, 5], "title": "Acceleration (m/s²)"}},
"color": {"datum": "Open Loop", "type": "nominal", "scale": {"domain": ["Open Loop", "Controller performance"], "range": ["#000000", "#ff0000"]},
"legend": {"orient": "none", "legendX": 7, "legendY": 10, "title": null, "symbolStrokeWidth": 1.2}}
}},
{"data": {"name": "accCP"}, "mark": {"type": "line", "strokeWidth": 1.1},
"encoding": {
"x": {"field": "t", "type": "quantitative"},
"y": {"field": "v", "type": "quantitative"},
"color": {"datum": "Controller performance", "type": "nominal"}
}}
]
}
],
"config": {
"font": "Liberation Sans",
"view": {"stroke": null},
"axis": {"grid": true, "gridColor": "#e6e6e6", "gridWidth": 1, "domainColor": "#808080", "domainWidth": 1, "ticks": false, "tickSize": 0, "labelPadding": 8, "labelFlush": false, "labelFont": "Liberation Sans", "labelFontSize": 19, "labelColor": "#262626", "labelExpr": "replace(datum.label, '−', '-')", "titleFont": "Liberation Sans", "titleFontSize": 21, "titleFontWeight": "normal", "titleColor": "#262626"},
"axisX": {"labelPadding": 12, "titlePadding": 6},
"axisY": {"titlePadding": 5},
"legend": {"symbolType": "M-1,0H9", "symbolSize": 74, "labelFont": "Liberation Sans", "labelFontSize": 18, "labelLimit": 400, "labelColor": "#000000", "strokeColor": "#999999", "fillColor": "#ffffff", "padding": 4, "rowPadding": 7, "labelOffset": 39, "direction": "vertical"}
}
}
